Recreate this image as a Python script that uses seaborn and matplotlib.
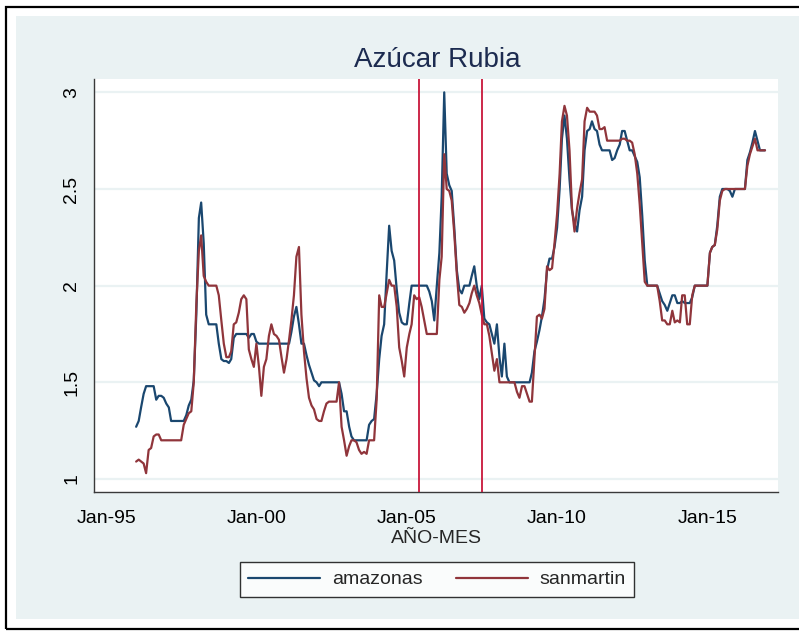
import numpy as np
import pandas as pd
import matplotlib
matplotlib.use("Agg")
import matplotlib.pyplot as plt
import matplotlib.dates as mdates
from matplotlib.patches import Rectangle
from matplotlib.lines import Line2D
import seaborn as sns

# Monthly price series, Jan-1996 .. Dec-2016 (one row per year)
amazonas = [
    1.27, 1.30, 1.37, 1.44, 1.48, 1.48, 1.48, 1.48, 1.41, 1.43, 1.43, 1.42,  # 1996
    1.39, 1.37, 1.30, 1.30, 1.30, 1.30, 1.30, 1.30, 1.33, 1.38, 1.41, 1.51,  # 1997
    1.85, 2.35, 2.43, 2.22, 1.85, 1.80, 1.80, 1.80, 1.80, 1.70, 1.62, 1.61,  # 1998
    1.61, 1.60, 1.62, 1.73, 1.75, 1.75, 1.75, 1.75, 1.75, 1.73, 1.75, 1.75,  # 1999
    1.71, 1.70, 1.70, 1.70, 1.70, 1.70, 1.70, 1.70, 1.70, 1.70, 1.70, 1.70,  # 2000
    1.70, 1.70, 1.76, 1.84, 1.89, 1.80, 1.70, 1.70, 1.64, 1.59, 1.55, 1.51,  # 2001
    1.50, 1.48, 1.50, 1.50, 1.50, 1.50, 1.50, 1.50, 1.50, 1.50, 1.44, 1.35,  # 2002
    1.35, 1.27, 1.22, 1.20, 1.20, 1.20, 1.20, 1.20, 1.20, 1.28, 1.30, 1.31,  # 2003
    1.44, 1.62, 1.74, 1.80, 2.06, 2.31, 2.18, 2.13, 1.98, 1.86, 1.81, 1.80,  # 2004
    1.80, 1.91, 2.00, 2.00, 2.00, 2.00, 2.00, 2.00, 2.00, 1.97, 1.92, 1.82,  # 2005
    2.00, 2.17, 2.46, 3.00, 2.58, 2.52, 2.49, 2.30, 2.08, 1.98, 1.96, 2.00,  # 2006
    2.00, 2.00, 2.05, 2.10, 2.00, 1.93, 2.00, 1.83, 1.81, 1.80, 1.75, 1.70,  # 2007
    1.80, 1.63, 1.53, 1.70, 1.53, 1.50, 1.50, 1.50, 1.50, 1.50, 1.50, 1.50,  # 2008
    1.50, 1.50, 1.55, 1.66, 1.71, 1.77, 1.84, 1.93, 2.08, 2.14, 2.14, 2.20,  # 2009
    2.30, 2.50, 2.76, 2.88, 2.76, 2.55, 2.39, 2.32, 2.28, 2.39, 2.46, 2.70,  # 2010
    2.80, 2.81, 2.85, 2.81, 2.80, 2.73, 2.70, 2.70, 2.70, 2.70, 2.65, 2.66,  # 2011
    2.70, 2.73, 2.80, 2.80, 2.75, 2.70, 2.70, 2.67, 2.64, 2.56, 2.36, 2.13,  # 2012
    2.00, 2.00, 2.00, 2.00, 2.00, 1.96, 1.92, 1.90, 1.87, 1.91, 1.95, 1.95,  # 2013
    1.91, 1.91, 1.92, 1.91, 1.91, 1.91, 1.94, 2.00, 2.00, 2.00, 2.00, 2.00,  # 2014
    2.00, 2.17, 2.20, 2.21, 2.31, 2.46, 2.50, 2.50, 2.50, 2.49, 2.46, 2.50,  # 2015
    2.50, 2.50, 2.50, 2.50, 2.65, 2.69, 2.74, 2.80, 2.75, 2.70, 2.70, 2.70,  # 2016
]

sanmartin = [
    1.09, 1.10, 1.09, 1.08, 1.03, 1.15, 1.16, 1.22, 1.23, 1.23, 1.20, 1.20,  # 1996
    1.20, 1.20, 1.20, 1.20, 1.20, 1.20, 1.20, 1.28, 1.31, 1.34, 1.35, 1.50,  # 1997
    1.90, 2.18, 2.26, 2.05, 2.02, 2.00, 2.00, 2.00, 2.00, 1.95, 1.82, 1.70,  # 1998
    1.63, 1.63, 1.66, 1.80, 1.81, 1.86, 1.93, 1.95, 1.93, 1.67, 1.62, 1.58,  # 1999
    1.70, 1.58, 1.43, 1.58, 1.62, 1.74, 1.80, 1.75, 1.74, 1.72, 1.63, 1.55,  # 2000
    1.62, 1.72, 1.82, 1.95, 2.15, 2.20, 1.85, 1.66, 1.52, 1.42, 1.38, 1.36,  # 2001
    1.31, 1.30, 1.30, 1.35, 1.39, 1.40, 1.40, 1.40, 1.40, 1.50, 1.27, 1.20,  # 2002
    1.12, 1.17, 1.20, 1.20, 1.19, 1.15, 1.13, 1.14, 1.13, 1.20, 1.20, 1.20,  # 2003
    1.41, 1.95, 1.89, 1.89, 1.96, 2.03, 2.00, 2.00, 1.89, 1.68, 1.61, 1.53,  # 2004
    1.68, 1.75, 1.80, 1.95, 1.93, 1.94, 1.89, 1.82, 1.75, 1.75, 1.75, 1.75,  # 2005
    1.75, 2.03, 2.15, 2.68, 2.50, 2.49, 2.44, 2.27, 2.06, 1.90, 1.89, 1.86,  # 2006
    1.88, 1.91, 1.96, 2.00, 1.95, 1.91, 1.85, 1.80, 1.80, 1.74, 1.65, 1.56,  # 2007
    1.62, 1.50, 1.50, 1.50, 1.50, 1.50, 1.50, 1.50, 1.45, 1.42, 1.48, 1.48,  # 2008
    1.44, 1.40, 1.40, 1.62, 1.84, 1.85, 1.83, 1.88, 2.10, 2.08, 2.09, 2.22,  # 2009
    2.37, 2.58, 2.85, 2.93, 2.88, 2.70, 2.40, 2.28, 2.40, 2.48, 2.55, 2.85,  # 2010
    2.92, 2.90, 2.90, 2.90, 2.88, 2.81, 2.81, 2.82, 2.75, 2.75, 2.75, 2.75,  # 2011
    2.75, 2.75, 2.76, 2.76, 2.75, 2.75, 2.74, 2.68, 2.58, 2.42, 2.22, 2.02,  # 2012
    2.00, 2.00, 2.00, 2.00, 2.00, 1.92, 1.82, 1.82, 1.80, 1.80, 1.87, 1.81,  # 2013
    1.82, 1.81, 1.95, 1.95, 1.80, 1.80, 1.95, 2.00, 2.00, 2.00, 2.00, 2.00,  # 2014
    2.00, 2.17, 2.20, 2.21, 2.29, 2.44, 2.49, 2.50, 2.50, 2.50, 2.50, 2.50,  # 2015
    2.50, 2.50, 2.50, 2.50, 2.62, 2.68, 2.72, 2.76, 2.70, 2.70, 2.70, 2.70,  # 2016
]

series_names = ["amazonas", "sanmartin"]
series_colors = ["#1a476f", "#90353b"]
event_dates = ["2005-06-01", "2007-07-01"]
tick_years = [1995, 2000, 2005, 2010, 2015]
y_ticks = [1, 1.5, 2, 2.5, 3]
y_tick_labels = ["1", "1.5", "2", "2.5", "3"]

months = pd.date_range("1996-01-01", periods=len(amazonas), freq="MS")
df = pd.concat([
    pd.DataFrame({"fecha": months, "precio": amazonas, "region": "amazonas"}),
    pd.DataFrame({"fecha": months, "precio": sanmartin, "region": "sanmartin"}),
], ignore_index=True)

sns.set_style("white")
plt.rcParams["font.family"] = ["Liberation Sans", "DejaVu Sans"]

W, H = 799, 633
fig = plt.figure(figsize=(W / 100, H / 100), dpi=100)
fig.patch.set_facecolor("white")

# outer frame and shaded graph region
fig.add_artist(Rectangle((6 / W, 1 - 629 / H), 1.0, (629 - 7) / H,
                         transform=fig.transFigure, facecolor="none",
                         edgecolor="black", linewidth=1.6, zorder=0))
fig.add_artist(Rectangle((16 / W, 1 - 619 / H), 1.0, (619 - 16) / H,
                         transform=fig.transFigure, facecolor="#eaf2f3",
                         edgecolor="none", zorder=0))

ax = fig.add_axes([94 / W, 1 - 492.3 / H, (778 - 94) / W, (492.3 - 79) / H])
ax.set_facecolor("white")

sns.lineplot(data=df, x="fecha", y="precio", hue="region",
             hue_order=series_names, palette=series_colors,
             linewidth=1.6, legend=False, ax=ax)

for d in event_dates:
    ax.axvline(pd.Timestamp(d), color="#c8173a", linewidth=1.3, zorder=3)

ax.set_xlim(pd.Timestamp("1994-08-07"), pd.Timestamp("2017-05-08"))
ax.set_ylim(0.931, 3.069)

ax.set_xticks([pd.Timestamp(f"{y}-01-01") for y in tick_years])
ax.xaxis.set_major_formatter(mdates.DateFormatter("%b-%y"))
ax.set_yticks(y_ticks)
ax.set_yticklabels(y_tick_labels)

ax.grid(axis="y", color="#eaf2f3", linewidth=1.6)
ax.grid(axis="x", visible=False)
ax.set_axisbelow(True)

for side in ["top", "right"]:
    ax.spines[side].set_visible(False)
for side in ["left", "bottom"]:
    ax.spines[side].set_color("#3a3a3a")
    ax.spines[side].set_linewidth(1.0)

ax.tick_params(axis="both", direction="out", length=7, width=1.0,
               color="#3a3a3a", labelsize=14, labelcolor="black")
ax.tick_params(axis="x", pad=6)
ax.tick_params(axis="y", pad=3)
for lab in ax.get_yticklabels():
    lab.set_rotation(90)
    lab.set_va("center")

ax.set_xlabel("AÑO-MES", fontsize=14, labelpad=2)
ax.set_ylabel("")

fig.text(437 / W, 1 - 60 / H, "Azúcar Rubia", ha="center", va="center",
         fontsize=20, color="#1c2b50")

handles = [Line2D([0], [0], color=c, linewidth=1.6) for c in series_colors]
leg = fig.legend(handles, series_names, loc="center",
                 bbox_to_anchor=(437 / W, 1 - 579.5 / H), ncol=2,
                 fontsize=14, frameon=True, fancybox=False,
                 edgecolor="black", handlelength=3.7, handletextpad=0.6,
                 columnspacing=1.7, borderpad=0.45)
leg.get_frame().set_linewidth(1.0)

fig.savefig("out.png", dpi=100)
